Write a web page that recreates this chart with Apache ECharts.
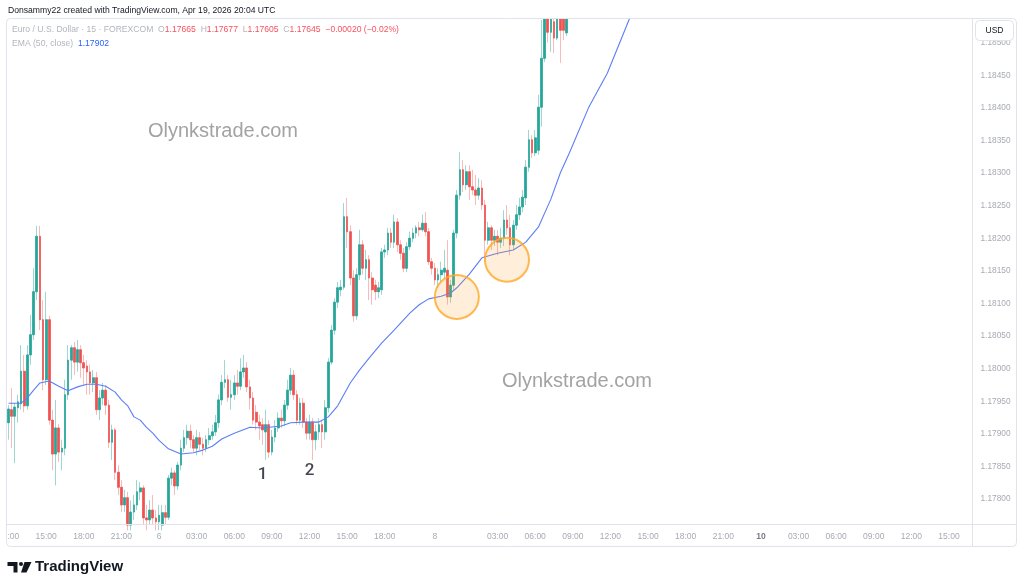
<!DOCTYPE html>
<html><head><meta charset="utf-8">
<script src="https://cdn.jsdelivr.net/npm/echarts@6/dist/echarts.min.js"></script>
<style>html,body{margin:0;padding:0;background:#fff}#c{width:1024px;height:588px}</style>
</head><body><div id="c"></div>
<script>
// ---- data (EUR/USD, 15 min) ----
const opens = [1.17917,1.17937,1.17927,1.17940,1.17946,1.17996,1.17943,1.18021,1.18052,1.18118,
 1.18203,1.18075,1.17983,1.18075,1.17921,1.17869,1.17909,1.17872,1.17878,1.17960,
 1.18013,1.18032,1.18010,1.18029,1.18009,1.18004,1.17995,1.17978,1.17986,1.17937,
 1.17955,1.17967,1.17944,1.17887,1.17906,1.17841,1.17818,1.17791,1.17802,1.17760,
 1.17780,1.17791,1.17811,1.17817,1.17771,1.17768,1.17783,1.17771,1.17765,1.17760,
 1.17779,1.17772,1.17832,1.17840,1.17820,1.17852,1.17878,1.17894,1.17904,1.17891,
 1.17878,1.17894,1.17884,1.17878,1.17891,1.17897,1.17903,1.17917,1.17952,1.17979,
 1.17983,1.17956,1.17960,1.17978,1.17973,1.17995,1.18001,1.17972,1.17955,1.17933,
 1.17918,1.17914,1.17903,1.17914,1.17872,1.17895,1.17909,1.17924,1.17920,1.17944,
 1.17967,1.17990,1.17960,1.17921,1.17947,1.17918,1.17901,1.17918,1.17891,1.17903,
 1.17914,1.17903,1.17940,1.18010,1.18059,1.18102,1.18121,1.18125,1.18233,1.18210,
 1.18139,1.18081,1.18144,1.18190,1.18154,1.18167,1.18139,1.18128,1.18118,1.18121,
 1.18179,1.18182,1.18208,1.18194,1.18225,1.18190,1.18177,1.18154,1.18187,1.18200,
 1.18208,1.18216,1.18213,1.18223,1.18210,1.18164,1.18154,1.18136,1.18144,1.18148,
 1.18151,1.18110,1.18128,1.18208,1.18266,1.18305,1.18282,1.18302,1.18279,1.18274,
 1.18266,1.18277,1.18251,1.18197,1.18216,1.18197,1.18203,1.18194,1.18200,1.18228,
 1.18216,1.18190,1.18220,1.18236,1.18248,1.18262,1.18309,1.18351,1.18331,1.18335,
 1.18401,1.18476,1.18547,1.18516,1.18532,1.18507,1.18542,1.18550,1.18515];
const closes = [1.17938,1.17927,1.17941,1.17949,1.17996,1.17943,1.18021,1.18052,1.18118,1.18203,
 1.18075,1.17983,1.18075,1.17921,1.17869,1.17909,1.17872,1.17878,1.17960,1.18013,
 1.18032,1.18010,1.18029,1.18009,1.18001,1.17995,1.17978,1.17986,1.17937,1.17955,
 1.17967,1.17944,1.17887,1.17906,1.17841,1.17818,1.17791,1.17802,1.17760,1.17780,
 1.17791,1.17811,1.17817,1.17771,1.17768,1.17783,1.17771,1.17765,1.17775,1.17779,
 1.17772,1.17832,1.17840,1.17820,1.17852,1.17878,1.17894,1.17904,1.17891,1.17878,
 1.17894,1.17884,1.17878,1.17891,1.17897,1.17903,1.17917,1.17952,1.17979,1.17983,
 1.17956,1.17960,1.17978,1.17973,1.17995,1.18001,1.17972,1.17955,1.17921,1.17918,
 1.17912,1.17906,1.17914,1.17872,1.17895,1.17909,1.17924,1.17920,1.17944,1.17967,
 1.17990,1.17960,1.17921,1.17947,1.17918,1.17901,1.17918,1.17891,1.17903,1.17914,
 1.17903,1.17940,1.18010,1.18059,1.18102,1.18124,1.18125,1.18233,1.18210,1.18139,
 1.18081,1.18144,1.18190,1.18154,1.18167,1.18139,1.18121,1.18118,1.18124,1.18179,
 1.18182,1.18208,1.18194,1.18225,1.18190,1.18177,1.18154,1.18187,1.18200,1.18208,
 1.18216,1.18213,1.18223,1.18210,1.18164,1.18154,1.18136,1.18144,1.18151,1.18154,
 1.18110,1.18128,1.18208,1.18266,1.18305,1.18282,1.18302,1.18279,1.18274,1.18266,
 1.18277,1.18251,1.18197,1.18216,1.18197,1.18203,1.18194,1.18200,1.18228,1.18216,
 1.18190,1.18220,1.18236,1.18248,1.18263,1.18309,1.18351,1.18331,1.18354,1.18401,
 1.18476,1.18547,1.18516,1.18542,1.18507,1.18547,1.18519,1.18519,1.18547];
const lows = [1.17891,1.17878,1.17855,1.17917,1.17937,1.17933,1.17937,1.18006,1.18044,1.18105,
 1.18059,1.17967,1.17975,1.17914,1.17844,1.17821,1.17857,1.17844,1.17867,1.17952,
 1.17983,1.17990,1.17995,1.17986,1.17975,1.17960,1.17960,1.17964,1.17929,1.17921,
 1.17944,1.17929,1.17878,1.17860,1.17829,1.17806,1.17780,1.17780,1.17752,1.17752,
 1.17768,1.17783,1.17798,1.17760,1.17752,1.17760,1.17760,1.17752,1.17752,1.17752,
 1.17760,1.17768,1.17821,1.17806,1.17814,1.17844,1.17872,1.17883,1.17878,1.17872,
 1.17867,1.17875,1.17867,1.17872,1.17883,1.17891,1.17897,1.17909,1.17944,1.17970,
 1.17949,1.17937,1.17952,1.17960,1.17967,1.17986,1.17964,1.17937,1.17914,1.17906,
 1.17891,1.17883,1.17860,1.17863,1.17867,1.17887,1.17903,1.17909,1.17912,1.17937,
 1.17960,1.17952,1.17914,1.17914,1.17909,1.17891,1.17891,1.17860,1.17875,1.17891,
 1.17878,1.17891,1.17933,1.18006,1.18052,1.18093,1.18111,1.18121,1.18185,1.18128,
 1.18072,1.18075,1.18136,1.18144,1.18136,1.18105,1.18098,1.18105,1.18108,1.18113,
 1.18170,1.18174,1.18185,1.18185,1.18179,1.18167,1.18148,1.18148,1.18182,1.18194,
 1.18200,1.18203,1.18210,1.18203,1.18159,1.18144,1.18128,1.18124,1.18133,1.18139,
 1.18098,1.18101,1.18121,1.18200,1.18259,1.18271,1.18274,1.18259,1.18266,1.18251,
 1.18259,1.18243,1.18164,1.18190,1.18182,1.18188,1.18174,1.18185,1.18188,1.18205,
 1.18174,1.18182,1.18213,1.18228,1.18240,1.18251,1.18302,1.18323,1.18326,1.18328,
 1.18371,1.18470,1.18500,1.18486,1.18484,1.18504,1.18469,1.18504,1.18510];
const highs = [1.17944,1.17970,1.17947,1.17960,1.18036,1.18021,1.18036,1.18082,1.18154,1.18219,
 1.18219,1.18105,1.18118,1.18081,1.17937,1.17952,1.17915,1.17891,1.17983,1.18036,
 1.18036,1.18041,1.18044,1.18036,1.18021,1.18013,1.18006,1.17998,1.17995,1.17967,
 1.17978,1.17975,1.17952,1.17914,1.17909,1.17852,1.17829,1.17814,1.17811,1.17798,
 1.17806,1.17829,1.17826,1.17821,1.17791,1.17798,1.17806,1.17783,1.17791,1.17791,
 1.17791,1.17837,1.17848,1.17844,1.17857,1.17891,1.17906,1.17914,1.17914,1.17898,
 1.17906,1.17903,1.17894,1.17898,1.17909,1.17914,1.17929,1.17960,1.17990,1.18013,
 1.17990,1.17983,1.17990,1.17998,1.18016,1.18021,1.18010,1.17983,1.17964,1.17944,
 1.17929,1.17924,1.17937,1.17921,1.17906,1.17921,1.17933,1.17937,1.17952,1.17983,
 1.18001,1.17998,1.17967,1.17955,1.17955,1.17924,1.17929,1.17924,1.17914,1.17924,
 1.17921,1.17952,1.18016,1.18067,1.18108,1.18133,1.18136,1.18254,1.18262,1.18220,
 1.18151,1.18154,1.18213,1.18197,1.18182,1.18174,1.18148,1.18136,1.18133,1.18185,
 1.18190,1.18216,1.18216,1.18236,1.18231,1.18197,1.18185,1.18194,1.18210,1.18216,
 1.18220,1.18225,1.18236,1.18240,1.18216,1.18170,1.18162,1.18154,1.18164,1.18182,
 1.18197,1.18136,1.18213,1.18274,1.18332,1.18320,1.18312,1.18312,1.18305,1.18297,
 1.18292,1.18289,1.18259,1.18225,1.18220,1.18213,1.18213,1.18216,1.18243,1.18251,
 1.18236,1.18228,1.18251,1.18262,1.18274,1.18320,1.18366,1.18358,1.18366,1.18420,
 1.18535,1.18558,1.18558,1.18558,1.18550,1.18558,1.18558,1.18562,1.18558];
// EMA(50) read at selected bars
const emaIdx = [0,4,6,8,10,13,16,19,22,25,28,31,34,36,38,40,42,44,46,48,51,55,59,62,65,68,72,77,81,87,90,94,99,102,105,109,112,115,119,123,128,131,134,138,141,143,147,151,156,161,165,169,173,176,179,185,191,198,205];
const emaVal = [1.17947,1.17947,1.17955,1.17967,1.17978,1.17981,1.17973,1.17966,1.17972,1.17976,1.17976,1.17973,1.17964,1.17952,1.17943,1.17926,1.17921,1.17910,1.17901,1.17890,1.17877,1.17869,1.17871,1.17875,1.17881,1.17892,1.17901,1.17910,1.17909,1.17912,1.17917,1.17918,1.17918,1.17926,1.17943,1.17978,1.17998,1.18016,1.18039,1.18059,1.18085,1.18098,1.18107,1.18111,1.18116,1.18124,1.18145,1.18170,1.18177,1.18182,1.18194,1.18217,1.18260,1.18300,1.18332,1.18400,1.18453,1.18536,1.18596];
// time axis
const barCount = 308;
const xTickIdx = [0,12,24,36,48,60,72,84,96,108,120,136,156,168,180,192,204,216,228,240,252,264,276,288,300];
const xTickText = ['12:00','15:00','18:00','21:00','6','03:00','06:00','09:00','12:00','15:00','18:00','8','03:00','06:00','09:00','12:00','15:00','18:00','21:00','10','03:00','06:00','09:00','12:00','15:00'];
// price axis
const yTicks = [1.1780,1.1785,1.1790,1.1795,1.1800,1.1805,1.1810,1.1815,1.1820,1.1825,1.1830,1.1835,1.1840,1.1845,1.1850];
const yMin = 1.177609, yMax = 1.185363;
// highlight circles and notes
const circleIdx = [142.7, 158.6];
const circlePrice = [1.18110, 1.18167];
const noteIdx = [81, 96];
const notePrice = [1.17837, 1.17844];
const noteText = ['1','2'];

// ---- build ----
const cats = new Array(barCount).fill('');
xTickIdx.forEach((k,j)=>{cats[k]=xTickText[j];});
const wickData = opens.map((o,i)=>[o, closes[i], lows[i], highs[i]]);
const bodyData = opens.map((o,i)=>[o, closes[i], Math.min(o,closes[i]), Math.max(o,closes[i])]);
const emaData = new Array(barCount).fill(null);
emaIdx.forEach((k,j)=>{emaData[k]=emaVal[j];});

const FF = '"Liberation Sans", Arial, sans-serif';
const GREY = '#a7aab3';
const chart = echarts.init(document.getElementById('c'), null, {renderer:'canvas'});
chart.setOption({
  animation:false,
  backgroundColor:'#ffffff',
  grid:{left:7, right:51.5, top:19, bottom:63.5, containLabel:false, outerBoundsMode:'none'},
  xAxis:{type:'category', data:cats, boundaryGap:true,
    axisLine:{show:false}, axisTick:{show:false}, splitLine:{show:false},
    axisLabel:{interval:(i,v)=>v!=='', color:GREY, fontSize:8.5, fontFamily:FF, margin:8,
      formatter:v=> v==='10' ? '{b|10}' : v,
      rich:{b:{fontWeight:'bold', color:'#787b86', fontSize:8.5, fontFamily:FF}}}},
  yAxis:{type:'value', position:'right', min:yMin, max:yMax,
    axisLine:{show:false}, axisTick:{show:false}, splitLine:{show:false},
    axisLabel:{customValues:yTicks, formatter:v=>v.toFixed(5), color:GREY, fontSize:8.3, fontFamily:FF, margin:8}},
  series:[
    {type:'candlestick', data:wickData, barWidth:2.2, z:2, clip:true,
      itemStyle:{color:'rgba(38,166,154,0.45)', color0:'rgba(239,83,80,0.4)', borderColor:'rgba(38,166,154,0.45)', borderColor0:'rgba(239,83,80,0.4)', borderWidth:1}},
    {type:'candlestick', data:bodyData, barWidth:2.2, z:3, clip:true,
      itemStyle:{color:'#26a69a', color0:'#ef5350', borderColor:'#26a69a', borderColor0:'#ef5350', borderWidth:0.5}},
    {type:'line', data:emaData, connectNulls:true, symbol:'none', z:4, clip:true,
      lineStyle:{color:'#5b7ef6', width:1.1}},
    {type:'scatter', data:circleIdx.map((x,i)=>[x, circlePrice[i]]), symbol:'circle', symbolSize:44, z:5,
      itemStyle:{color:'rgba(255,160,40,0.22)', borderColor:'#ffa726', borderWidth:2}},
    {type:'scatter', data:noteIdx.map((x,i)=>[x, notePrice[i]]), symbolSize:0, z:6,
      label:{show:true, position:'inside', formatter:p=>noteText[p.dataIndex], color:'#131722', fontSize:17, fontWeight:500, fontFamily:'Roboto, "Liberation Sans", sans-serif'}}
  ],
  graphic:[
    {type:'rect', z:50, shape:{x:0,y:0,width:1024,height:18.5}, style:{fill:'#fff'}},
    {type:'rect', z:50, shape:{x:0,y:518,width:6.5,height:32}, style:{fill:'#fff'}},
    {type:'rect', z:60, shape:{x:6.5,y:18.5,width:1010,height:528,r:4}, style:{fill:'none', stroke:'#e0e3eb', lineWidth:1}},
    {type:'line', z:60, shape:{x1:6.5,y1:524.5,x2:1016.5,y2:524.5}, style:{stroke:'#e0e3eb', lineWidth:1}},
    {type:'line', z:60, shape:{x1:972.5,y1:18.5,x2:972.5,y2:546.5}, style:{stroke:'#e0e3eb', lineWidth:1}},
    {type:'rect', z:61, shape:{x:975.5,y:20.5,width:38,height:20,r:4}, style:{fill:'#fff', stroke:'#e0e3eb', lineWidth:1}},
    {type:'text', z:62, x:994.5, y:30.5, style:{text:'USD', fill:'#131722', font:'8.5px '+FF, textAlign:'center', textVerticalAlign:'middle'}},
    {type:'text', z:62, x:8, y:11, style:{text:'Donsammy22 created with TradingView.com, Apr 19, 2026 20:04 UTC', fill:'#131722', font:'8.6px '+FF, textVerticalAlign:'middle'}},
    {type:'text', z:62, x:12, y:30, style:{
      text:'{g|Euro / U.S. Dollar · 15 · FOREXCOM  O}{r|1.17665}{g|  H}{r|1.17677}{g|  L}{r|1.17605}{g|  C}{r|1.17645}{r|  −0.00020 (−0.02%)}',
      textVerticalAlign:'middle',
      rich:{g:{fill:'#b2b5be', font:'8.6px '+FF}, r:{fill:'#f7525f', font:'8.6px '+FF}}}},
    {type:'text', z:62, x:12, y:44, style:{
      text:'{g|EMA (50, close)  }{b|1.17902}', textVerticalAlign:'middle',
      rich:{g:{fill:'#b2b5be', font:'8.6px '+FF}, b:{fill:'#2962ff', font:'8.6px '+FF}}}},
    {type:'text', z:40, x:223, y:131, style:{text:'Olynkstrade.com', fill:'#a3a3a3', font:'20px '+FF, textAlign:'center', textVerticalAlign:'middle'}},
    {type:'text', z:40, x:577, y:381, style:{text:'Olynkstrade.com', fill:'#a3a3a3', font:'20px '+FF, textAlign:'center', textVerticalAlign:'middle'}},
    {type:'polygon', z:62, shape:{points:[[7.5,562],[17.5,562],[17.5,572.5],[13.5,572.5],[13.5,566],[7.5,566]]}, style:{fill:'#131722'}},
    {type:'circle', z:62, shape:{cx:21,cy:564,r:2}, style:{fill:'#131722'}},
    {type:'polygon', z:62, shape:{points:[[24.5,562],[31.5,562],[26.5,572.5],[21,572.5]]}, style:{fill:'#131722'}},
    {type:'text', z:62, x:35, y:567, style:{text:'TradingView', fill:'#131722', font:'bold 15px '+FF, textVerticalAlign:'middle'}}
  ]
});
</script></body></html>
